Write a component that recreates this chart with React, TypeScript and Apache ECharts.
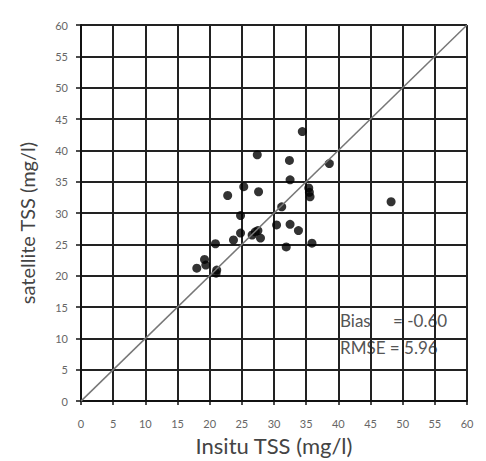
import React, { useEffect, useRef } from "react";
import * as echarts from "echarts";

const insitu = [34.4, 27.4, 32.4, 38.6, 32.5, 25.3, 27.6, 22.8, 35.4, 35.5, 35.6, 31.2, 24.8, 30.4, 32.5, 33.8, 27.5, 24.8, 26.6, 27.1, 27.9, 23.7, 20.9, 31.9, 35.9, 19.2, 19.4, 18.0, 21.1, 21.0, 48.2];
const satellite = [43.0, 39.3, 38.4, 37.9, 35.3, 34.2, 33.4, 32.8, 34.0, 33.3, 32.6, 31.0, 29.6, 28.1, 28.2, 27.2, 27.2, 26.8, 26.5, 27.0, 26.0, 25.7, 25.1, 24.6, 25.2, 22.6, 21.7, 21.2, 20.9, 20.4, 31.8];
const lineX = [0, 60];
const biasLabel = "Bias";
const biasValue = "= -0.60";
const rmseLabel = "RMSE = 5.96";
const xTitle = "Insitu TSS (mg/l)";
const yTitle = "satellite TSS (mg/l)";

export default function App() {
  const ref = useRef<HTMLDivElement>(null);
  useEffect(() => {
    const chart = echarts.init(ref.current!, null, { renderer: "svg" });
    const font = "Lato, 'Open Sans', sans-serif";
    chart.setOption({
      animation: false,
      backgroundColor: "#fff",
      grid: { left: 81, right: 19, top: 25, bottom: 59 },
      xAxis: {
        type: "value", min: 0, max: 60, interval: 5,
        name: xTitle, nameLocation: "middle", nameGap: 31,
        nameTextStyle: { fontSize: 22, color: "#444", fontFamily: font },
        axisLine: { show: true, lineStyle: { color: "#111", width: 2 } },
        axisTick: { show: true, length: 4, lineStyle: { color: "#111", width: 1.5 } },
        axisLabel: { fontSize: 11, color: "#666", margin: 17, fontFamily: font },
        splitLine: { show: true, lineStyle: { color: "#222", width: 2 } },
      },
      yAxis: {
        type: "value", min: 0, max: 60, interval: 5,
        name: yTitle, nameLocation: "middle", nameGap: 44,
        nameTextStyle: { fontSize: 20, color: "#444", fontFamily: font, padding: [0, 20, 0, 0] },
        axisLine: { show: true, lineStyle: { color: "#111", width: 2 } },
        axisTick: { show: true, length: 5, lineStyle: { color: "#111", width: 1.5 } },
        axisLabel: { fontSize: 11, color: "#666", margin: 13, fontFamily: font },
        splitLine: { show: true, lineStyle: { color: "#222", width: 2 } },
      },
      series: [
        {
          type: "line",
          data: lineX.map((v) => [v, v]),
          symbol: "none",
          lineStyle: { color: "#777", width: 1.5 },
          silent: true,
        },
        {
          type: "scatter",
          data: insitu.map((x, i) => [x, satellite[i]]),
          symbolSize: 9,
          itemStyle: { color: "#000" },
        },
      ],
      graphic: [
        { type: "text", left: 340, top: 312, style: { text: biasLabel, fontSize: 17, fill: "#555", fontFamily: font } },
        { type: "text", left: 393, top: 312, style: { text: biasValue, fontSize: 17, fill: "#555", fontFamily: font } },
        { type: "text", left: 340, top: 339, style: { text: rmseLabel, fontSize: 17, fill: "#555", fontFamily: font } },
      ],
    });
    return () => chart.dispose();
  }, []);
  return <div ref={ref} style={{ width: 486, height: 461, position: "absolute", left: 0, top: 0 }} />;
}
